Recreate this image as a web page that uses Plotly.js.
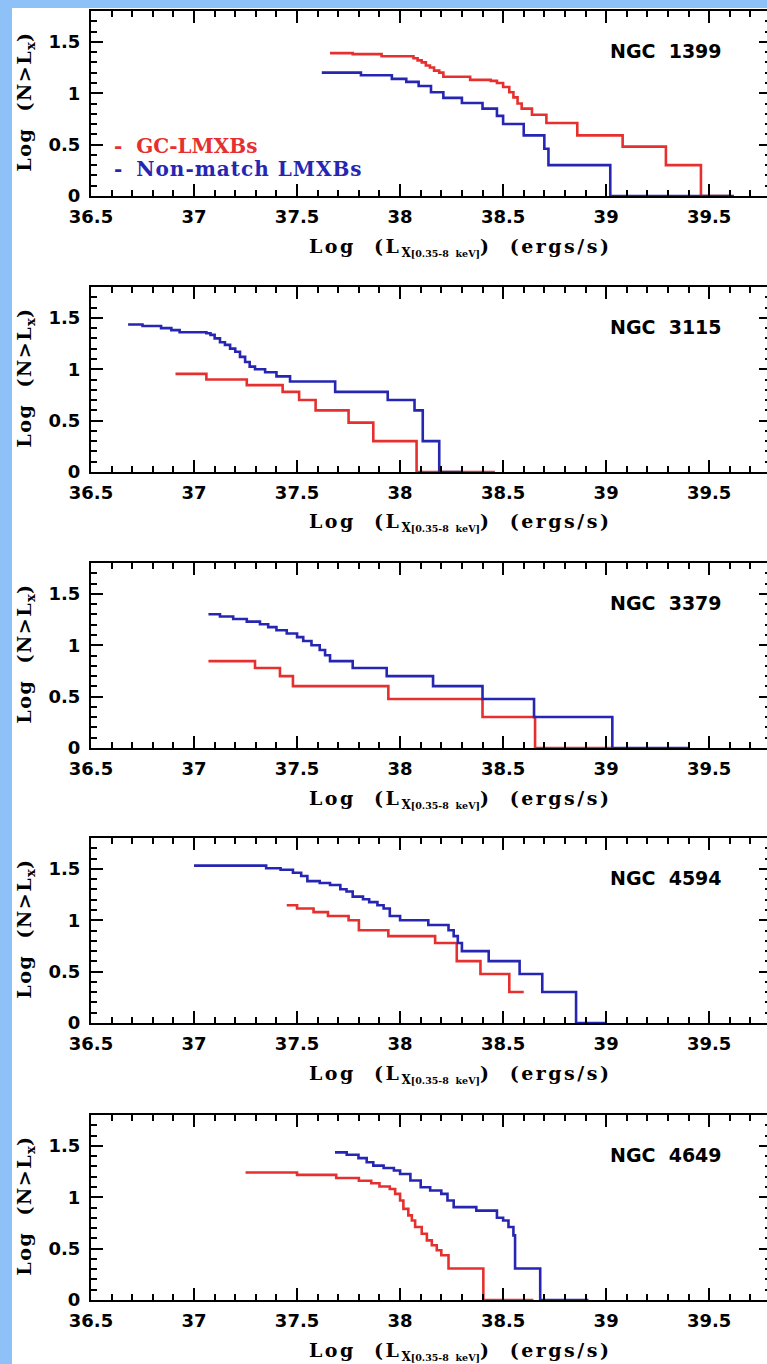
<!DOCTYPE html>
<html><head><meta charset="utf-8">
<script src="https://cdn.plot.ly/plotly-3.0.1.min.js"></script>
<style>
html,body{margin:0;padding:0;background:#8ec1f8;overflow:hidden;width:767px;height:1364px;}
#chart{position:absolute;left:12px;top:8px;width:759px;height:1356px;}
</style></head><body><div id="chart"></div><script>
// ---- data ----
const galaxies = ['NGC 1399', 'NGC 3115', 'NGC 3379', 'NGC 4594', 'NGC 4649'];
const seriesNames = ['GC-LMXBs', 'Non-match LMXBs'];
const xTickVals = [36.5, 37, 37.5, 38, 38.5, 39, 39.5];
const yTickVals = [0, 0.5, 1, 1.5];

// NGC 1399
const gc1399_x = [37.66, 37.77, 37.91, 38.065, 38.085, 38.105, 38.125, 38.145, 38.165, 38.19, 38.21, 38.34, 38.44, 38.47, 38.50, 38.53, 38.55, 38.57, 38.59, 38.64, 38.71, 38.86, 39.08, 39.29, 39.46, 39.60];
const gc1399_y = [1.39, 1.38, 1.36, 1.34, 1.32, 1.30, 1.27, 1.25, 1.22, 1.20, 1.16, 1.13, 1.12, 1.10, 1.06, 1.01, 0.96, 0.90, 0.85, 0.79, 0.71, 0.59, 0.48, 0.30, 0, 0];
const nm1399_x = [37.62, 37.81, 37.96, 38.03, 38.09, 38.15, 38.21, 38.30, 38.40, 38.47, 38.50, 38.60, 38.70, 38.72, 39.02, 39.62];
const nm1399_y = [1.20, 1.175, 1.14, 1.11, 1.07, 1.01, 0.955, 0.905, 0.85, 0.78, 0.70, 0.59, 0.46, 0.30, 0, 0];
// NGC 3115
const gc3115_x = [36.91, 37.06, 37.256, 37.43, 37.51, 37.59, 37.75, 37.87, 38.08, 38.46];
const gc3115_y = [0.955, 0.90, 0.845, 0.78, 0.70, 0.60, 0.48, 0.30, 0, 0];
const nm3115_x = [36.68, 36.75, 36.84, 36.89, 36.93, 37.06, 37.08, 37.10, 37.126, 37.15, 37.175, 37.20, 37.223, 37.248, 37.27, 37.296, 37.345, 37.40, 37.466, 37.685, 37.94, 38.07, 38.11, 38.19, 38.30];
const nm3115_y = [1.435, 1.42, 1.40, 1.38, 1.36, 1.35, 1.334, 1.30, 1.263, 1.237, 1.20, 1.17, 1.12, 1.07, 1.025, 1.0, 0.97, 0.93, 0.88, 0.78, 0.70, 0.60, 0.30, 0, 0];
// NGC 3379
const gc3379_x = [37.07, 37.296, 37.417, 37.48, 37.943, 38.40, 38.655, 39.03];
const gc3379_y = [0.845, 0.778, 0.699, 0.602, 0.477, 0.301, 0, 0];
const nm3379_x = [37.07, 37.126, 37.19, 37.256, 37.32, 37.36, 37.40, 37.45, 37.50, 37.53, 37.57, 37.61, 37.636, 37.66, 37.77, 37.935, 38.16, 38.40, 38.65, 39.03, 39.40];
const nm3379_y = [1.301, 1.279, 1.255, 1.23, 1.204, 1.176, 1.146, 1.114, 1.079, 1.041, 1.0, 0.954, 0.903, 0.845, 0.778, 0.699, 0.602, 0.477, 0.301, 0, 0];
// NGC 4594
const gc4594_x = [37.45, 37.50, 37.58, 37.65, 37.75, 37.80, 37.943, 38.17, 38.275, 38.39, 38.53, 38.60];
const gc4594_y = [1.146, 1.114, 1.079, 1.041, 1.0, 0.903, 0.845, 0.778, 0.602, 0.477, 0.301, 0.301];
const nm4594_x = [37.00, 37.35, 37.42, 37.48, 37.52, 37.55, 37.61, 37.66, 37.71, 37.74, 37.77, 37.82, 37.85, 37.89, 37.92, 37.95, 38.00, 38.137, 38.235, 38.26, 38.28, 38.30, 38.43, 38.58, 38.69, 38.854, 39.00];
const nm4594_y = [1.531, 1.505, 1.491, 1.462, 1.431, 1.38, 1.362, 1.342, 1.301, 1.279, 1.23, 1.204, 1.176, 1.146, 1.114, 1.041, 1.0, 0.954, 0.903, 0.845, 0.778, 0.699, 0.602, 0.477, 0.301, 0, 0];
// NGC 4649
const gc4649_x = [37.25, 37.50, 37.69, 37.80, 37.86, 37.90, 37.95, 37.976, 38.00, 38.016, 38.04, 38.057, 38.073, 38.105, 38.13, 38.154, 38.178, 38.20, 38.235, 38.404, 38.647];
const gc4649_y = [1.24, 1.217, 1.187, 1.16, 1.136, 1.104, 1.08, 1.033, 0.968, 0.887, 0.823, 0.774, 0.71, 0.645, 0.58, 0.532, 0.484, 0.436, 0.307, 0, 0];
const nm4649_x = [37.684, 37.741, 37.798, 37.838, 37.87, 37.92, 37.97, 38.00, 38.05, 38.10, 38.146, 38.20, 38.23, 38.26, 38.37, 38.47, 38.50, 38.526, 38.55, 38.558, 38.68, 38.914];
const nm4649_y = [1.436, 1.413, 1.38, 1.34, 1.307, 1.285, 1.26, 1.226, 1.162, 1.097, 1.065, 1.033, 0.968, 0.904, 0.87, 0.80, 0.774, 0.71, 0.629, 0.307, 0, 0];

const gcX = [gc1399_x, gc3115_x, gc3379_x, gc4594_x, gc4649_x];
const gcY = [gc1399_y, gc3115_y, gc3379_y, gc4594_y, gc4649_y];
const nmX = [nm1399_x, nm3115_x, nm3379_x, nm4594_x, nm4649_x];
const nmY = [nm1399_y, nm3115_y, nm3379_y, nm4594_y, nm4649_y];

// ---- styling / layout ----
const RED = '#e63030', BLUE = '#2626b2';
const H = 1356, PANEL_H = 185;
const tops = [3, 279, 555, 830, 1107];
const tickFont = {family: 'DejaVu Sans, sans-serif', size: 18, color: '#000', weight: 'bold'};
const serif = 'DejaVu Serif, serif';
const NB = '\u00a0';
const wide = (t, ls) => '<span style="letter-spacing:' + ls + 'px">' + t + '</span>';

const xTitle = wide('Log' + NB + NB + '(L', 2.5) +
  '<sub><span style="font-size:12px">X</span><span style="font-size:9.5px">[0.35-8' + NB + NB + 'keV]</span></sub>' +
  wide(')' + NB + NB + '(ergs/s)', 2.5);
const yTitle = wide('Log' + NB + NB + '(N&gt;L', 1.5) + '<sub>x</sub>)';

const traces = [];
const layout = {
  width: 759, height: H,
  margin: {l: 79, r: 0, t: 0, b: 0},
  paper_bgcolor: '#ffffff', plot_bgcolor: '#ffffff',
  showlegend: false,
  annotations: []
};

for (let i = 0; i < galaxies.length; i++) {
  const s = i === 0 ? '' : String(i + 1);
  traces.push({x: gcX[i], y: gcY[i], name: seriesNames[0], xaxis: 'x' + s, yaxis: 'y' + s,
    type: 'scatter', mode: 'lines', line: {shape: 'hv', color: RED, width: 2.6}});
  traces.push({x: nmX[i], y: nmY[i], name: seriesNames[1], xaxis: 'x' + s, yaxis: 'y' + s,
    type: 'scatter', mode: 'lines', line: {shape: 'hv', color: BLUE, width: 2.6}});

  const top = tops[i];
  layout['xaxis' + s] = {
    domain: [0, 1], anchor: 'y' + s, range: [36.5, 39.8],
    tickmode: 'array', tickvals: xTickVals,
    ticks: 'inside', ticklen: 12, tickwidth: 2, tickcolor: '#000',
    minor: {dtick: 0.1, tick0: 36.5, ticks: 'inside', ticklen: 6, tickwidth: 2, tickcolor: '#000', showgrid: false},
    showline: true, linewidth: 2, linecolor: '#000', mirror: 'ticks',
    showgrid: false, zeroline: false, tickfont: tickFont, ticklabelstandoff: 3
  };
  layout['yaxis' + s] = {
    domain: [1 - (top + PANEL_H) / H, 1 - top / H], anchor: 'x' + s, range: [0, 1.8],
    tickmode: 'array', tickvals: yTickVals,
    ticks: 'inside', ticklen: 12, tickwidth: 2, tickcolor: '#000',
    minor: {dtick: 0.1, tick0: 0, ticks: 'inside', ticklen: 6, tickwidth: 2, tickcolor: '#000', showgrid: false},
    showline: true, linewidth: 2, linecolor: '#000', mirror: 'ticks',
    showgrid: false, zeroline: false, tickfont: tickFont, ticklabelstandoff: 5
  };

  // x-axis title
  layout.annotations.push({
    xref: 'x' + s, yref: 'y' + s + ' domain', x: 38.29, y: -51 / PANEL_H,
    xanchor: 'center', yanchor: 'middle', showarrow: false,
    text: xTitle,
    font: {family: serif, size: 19, color: '#000', weight: 'bold'}
  });
  // y-axis title
  layout.annotations.push({
    xref: 'x' + s + ' domain', yref: 'y' + s + ' domain', x: -0.0956, y: 0.51,
    xanchor: 'center', yanchor: 'middle', showarrow: false, textangle: -90,
    text: yTitle,
    font: {family: serif, size: 19, color: '#000', weight: 'bold'}
  });
  // galaxy label
  layout.annotations.push({
    xref: 'x' + s, yref: 'y' + s, x: 39.29, y: 1.41,
    xanchor: 'center', yanchor: 'middle', showarrow: false,
    text: galaxies[i].replace(' ', NB + NB),
    font: {family: 'DejaVu Sans, sans-serif', size: 19, color: '#000', weight: 'bold'}
  });
}

// legend text in the first panel
layout.annotations.push({
  xref: 'x', yref: 'y', x: 36.60, y: 0.487, xanchor: 'left', yanchor: 'middle', showarrow: false,
  text: '-' + NB + NB + seriesNames[0], font: {family: serif, size: 20, color: RED, weight: 'bold'}
});
layout.annotations.push({
  xref: 'x', yref: 'y', x: 36.60, y: 0.262, xanchor: 'left', yanchor: 'middle', showarrow: false,
  text: '-' + NB + NB + wide(seriesNames[1], 1), font: {family: serif, size: 20, color: BLUE, weight: 'bold'}
});

Plotly.newPlot('chart', traces, layout, {staticPlot: true, displayModeBar: false});
</script></body></html>
